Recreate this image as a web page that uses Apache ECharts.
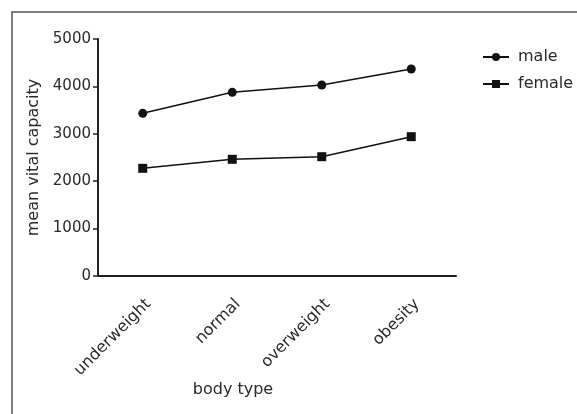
<!DOCTYPE html>
<html><head><meta charset="utf-8">
<script src="https://cdn.jsdelivr.net/npm/echarts@6/dist/echarts.min.js"></script>
<style>html,body{margin:0;padding:0;background:#fff}#c{width:577px;height:414px}</style>
</head><body><div id="c"></div>
<script>
const categories = ['underweight', 'normal', 'overweight', 'obesity'];
const male = [3432, 3875, 4030, 4367];
const female = [2272, 2462, 2517, 2939];
const yTicks = [0, 1000, 2000, 3000, 4000, 5000];

const FONT = 'DejaVu Sans';
const TXT = '#2a2a2a';
const chart = echarts.init(document.getElementById('c'), null, {renderer: 'canvas'});
chart.setOption({
  animation: false,
  backgroundColor: '#fff',
  graphic: [{type: 'rect', shape: {x: 12, y: 12, width: 600, height: 450},
    style: {fill: 'none', stroke: '#555', lineWidth: 1.5}, silent: true}],
  grid: {left: 98, right: 121, top: 39, bottom: 138},
  legend: {
    orient: 'vertical', left: 477, top: 44, itemWidth: 26, itemHeight: 10, itemGap: 11,
    textStyle: {fontFamily: FONT, fontSize: 16, color: TXT, padding: [0, 0, 0, 4]},
    data: ['male', 'female']
  },
  xAxis: {
    type: 'category', data: categories, boundaryGap: true,
    name: 'body type', nameLocation: 'middle', nameGap: 106, nameMoveOverlap: false,
    nameTextStyle: {fontFamily: FONT, fontSize: 16, color: TXT, padding: [0, 88, 0, 0]},
    axisLine: {lineStyle: {color: '#222', width: 2}},
    axisTick: {alignWithLabel: true, length: 6, lineStyle: {color: '#222', width: 1.5}},
    axisLabel: {rotate: 45, margin: 20, verticalAlign: 'top',
      fontFamily: FONT, fontSize: 16, color: TXT}
  },
  yAxis: {
    type: 'value', min: yTicks[0], max: yTicks[yTicks.length - 1], interval: 1000,
    name: 'mean vital capacity', nameLocation: 'middle', nameGap: 52, nameRotate: 90,
    nameTextStyle: {fontFamily: FONT, fontSize: 16, color: TXT},
    axisLine: {show: true, lineStyle: {color: '#222', width: 2}},
    axisTick: {show: true, length: 5, lineStyle: {color: '#222', width: 1.5}},
    splitLine: {show: false},
    axisLabel: {margin: 7, fontFamily: FONT, fontSize: 15, color: TXT, formatter: v => String(v)}
  },
  series: [
    {name: 'male', type: 'line', data: male, symbol: 'circle', symbolSize: 9,
     itemStyle: {color: '#111'}, lineStyle: {color: '#111', width: 1.5}},
    {name: 'female', type: 'line', data: female, symbol: 'rect', symbolSize: 9,
     itemStyle: {color: '#111'}, lineStyle: {color: '#111', width: 1.5}}
  ]
});
</script></body></html>
